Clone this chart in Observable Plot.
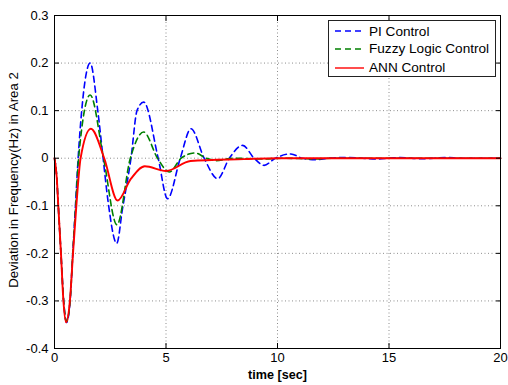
<!DOCTYPE html>
<html><head><meta charset="utf-8">
<script src="https://cdn.jsdelivr.net/npm/d3@7"></script>
<script src="https://cdn.jsdelivr.net/npm/@observablehq/plot@0.6"></script>
<style>
body{margin:0;background:#fff;}
#wrap{position:relative;width:508px;height:385px;font-family:"Liberation Sans",Arial,Helvetica,sans-serif;}
#legend{position:absolute;left:328px;top:20px;width:168px;height:57px;border:1px solid #222;background:#fff;box-sizing:border-box;font-size:13.6px;color:#000;}
#legend .row{position:absolute;left:0;height:16px;display:flex;align-items:center;}
#legend svg{margin-left:6px;margin-right:4px;}
</style></head>
<body><div id="wrap"></div>
<script>
// ---- data ----
const seriesNames = ["PI Control", "Fuzzy Logic Control", "ANN Control"];
const seriesColors = ["#0000ff", "#008000", "#ff0000"];

const piT = [0, 0.1, 0.17, 0.29, 0.41, 0.54, 0.7, 0.82, 0.94, 1.06, 1.22, 1.6, 1.94, 2.18, 2.4, 2.79, 3.05, 3.43, 3.7, 4.0, 4.65, 5.07, 5.64, 6.12, 6.71, 7.32, 7.84, 8.44, 8.95, 9.4, 9.9, 10.6, 11.1, 11.7, 12.3, 13.0, 13.8, 14.4, 15.0, 15.5, 16.0, 16.5, 17.0, 17.6, 18.2, 20];
const piV = [0, -0.04, -0.1, -0.2, -0.3, -0.345, -0.3, -0.2, -0.1, 0, 0.1, 0.2, 0.1, 0, -0.09, -0.179, -0.106, 0, 0.1, 0.118, 0, -0.085, 0, 0.062, 0, -0.043, 0, 0.027, 0, -0.015, 0, 0.009, 0, -0.003, 0, 0.0015, 0, -0.0015, 0, 0.0015, 0, -0.001, 0, 0.0015, 0, 0];

const fuzzyT = [0, 0.1, 0.17, 0.29, 0.41, 0.54, 0.7, 0.82, 0.95, 1.08, 1.6, 2.2, 2.8, 3.4, 4.0, 4.62, 5.15, 5.68, 6.3, 6.8, 7.25, 8.0, 9.3, 10.3, 11.6, 12.5, 20];
const fuzzyV = [0, -0.04, -0.1, -0.2, -0.3, -0.343, -0.3, -0.2, -0.1, 0, 0.133, 0, -0.14, 0, 0.055, 0, -0.029, 0, 0.011, 0, -0.005, 0, -0.0015, 0, -0.0015, 0, 0];

const annT = [0, 0.1, 0.17, 0.29, 0.4, 0.52, 0.69, 0.83, 0.98, 1.17, 1.63, 2.23, 2.83, 3.43, 4.05, 5.0, 6.1, 8.5, 10, 20];
const annV = [0, -0.04, -0.1, -0.2, -0.3, -0.345, -0.3, -0.2, -0.1, 0, 0.062, 0, -0.089, -0.043, -0.017, -0.027, -0.006, -0.002, 0, 0];

const xTicks = [0, 5, 10, 15, 20];
const xTickLabels = ["0", "5", "10", "15", "20"];
const yTicks = [-0.4, -0.3, -0.2, -0.1, 0, 0.1, 0.2, 0.3];
const yTickLabels = ["-0.4", "-0.3", "-0.2", "-0.1", "0", "0.1", "0.2", "0.3"];
const xLabel = "time [sec]";
const yLabel = "Deviation in Frequency(Hz) in Area 2";

// ---- build tables ----
const toRows = (T, V, name) => T.map((t, i) => ({t, v: V[i], series: name}));
const piRows = toRows(piT, piV, seriesNames[0]);
const fuzzyRows = toRows(fuzzyT, fuzzyV, seriesNames[1]);
const annRows = toRows(annT, annV, seriesNames[2]);

const gridStyle = {stroke: "#000", strokeOpacity: 0.45, strokeDasharray: "1,2.5"};

const chart = Plot.plot({
  width: 508, height: 385,
  marginLeft: 54, marginRight: 8, marginTop: 15, marginBottom: 37,
  style: {fontFamily: "'Liberation Sans', Arial, Helvetica, sans-serif", fontSize: "13px", color: "#000", background: "#fff", overflow: "visible"},
  x: {domain: [0, 20]},
  y: {domain: [-0.4, 0.3]},
  marks: [
    Plot.gridX(xTicks.slice(1, -1), gridStyle),
    Plot.gridY(yTicks.slice(1, -1), gridStyle),
    Plot.line(piRows, {x: "t", y: "v", stroke: seriesColors[0], strokeWidth: 1.6, strokeDasharray: "6,4", curve: "monotone-x"}),
    Plot.line(fuzzyRows, {x: "t", y: "v", stroke: seriesColors[1], strokeWidth: 1.6, strokeDasharray: "6,4", curve: "monotone-x"}),
    Plot.line(annRows, {x: "t", y: "v", stroke: seriesColors[2], strokeWidth: 1.9, curve: "monotone-x"}),
    Plot.frame({stroke: "#000", strokeWidth: 1}),
    // inward ticks on all four sides
    Plot.axisX(xTicks, {anchor: "bottom", tickSize: 5, dy: -5, fill: "none", label: null}),
    Plot.axisX(xTicks, {anchor: "top", tickSize: 5, dy: 5, fill: "none", label: null}),
    Plot.axisY(yTicks, {anchor: "left", tickSize: 5, dx: 5, fill: "none", label: null}),
    Plot.axisY(yTicks, {anchor: "right", tickSize: 5, dx: -5, fill: "none", label: null}),
    // tick labels
    Plot.axisX(xTicks, {anchor: "bottom", tickSize: 0, tickPadding: 4, stroke: "none", fontSize: 13, tickFormat: d => xTickLabels[xTicks.indexOf(d)], label: null}),
    Plot.axisY(yTicks, {anchor: "left", tickSize: 0, tickPadding: 6, stroke: "none", fontSize: 13, tickFormat: d => yTickLabels[yTicks.indexOf(d)], label: null}),
    // axis titles
    Plot.text([xLabel], {frameAnchor: "bottom", dy: 26, text: d => d, fontWeight: "bold", fontSize: 12.6, lineAnchor: "middle", textAnchor: "middle"}),
    Plot.text([yLabel], {frameAnchor: "left", dx: -41, dy: -2, text: d => d, rotate: -90, fontSize: 13.2, lineAnchor: "middle", textAnchor: "middle"})
  ]
});

const wrap = document.getElementById("wrap");
wrap.appendChild(chart);

// legend (drawn inside the axes, top right)
const legend = document.createElement("div");
legend.id = "legend";
const rowTops = [2, 19.7, 38.7];
seriesNames.forEach((name, i) => {
  const row = document.createElement("div");
  row.className = "row";
  row.style.top = rowTops[i] + "px";
  const dash = i < 2 ? "6,4" : null;
  row.innerHTML = `<svg width="30" height="10"><line x1="0" y1="5" x2="29" y2="5" stroke="${seriesColors[i]}" stroke-width="1.4" ${dash ? `stroke-dasharray="${dash}"` : ""}/></svg><span>${name}</span>`;
  legend.appendChild(row);
});
wrap.appendChild(legend);
</script>
</body></html>
